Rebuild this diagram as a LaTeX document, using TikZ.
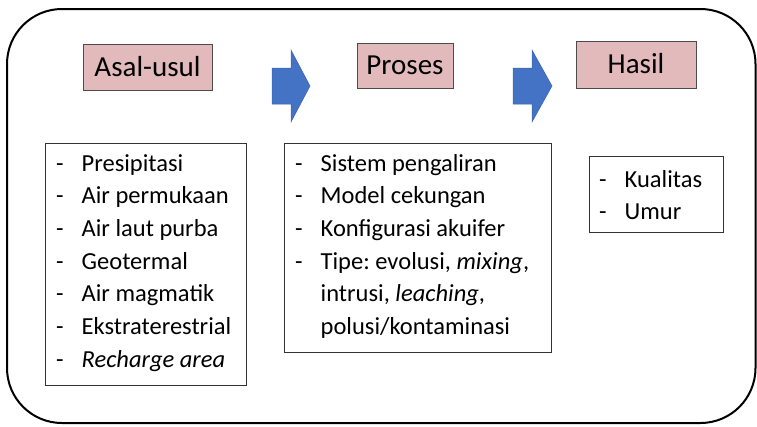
\documentclass[tikz,border=0pt]{standalone}
\usepackage{fontspec}
\setmainfont{Carlito}
\definecolor{pinkbox}{RGB}{226,186,188}
\definecolor{arrowblue}{RGB}{68,114,196}
\definecolor{arrowedge}{RGB}{60,100,175}
\newcommand{\dashitem}[1]{\makebox[25.5pt][l]{-}#1}
\newcommand{\contitem}[1]{\makebox[25.5pt][l]{}#1}
\frenchspacing
\begin{document}
\begin{tikzpicture}[x=1pt,y=-1pt,
  headbox/.style={draw=black!70, fill=pinkbox, line width=0.8pt, inner sep=0pt,
    font=\fontsize{29}{35}\selectfont, text height=18.7pt, text depth=0pt},
  listbox/.style={draw=black!80, line width=0.9pt, inner sep=0pt},
  listtext/.style={inner sep=0pt, anchor=base west, font=\fontsize{24.5}{32.7}\selectfont},
  blockarrow/.style={fill=arrowblue, draw=arrowedge, line width=0.5pt}]
\useasboundingbox (0,0) rectangle (757,426);
% outer frame
\draw[line width=2pt, rounded corners=55pt] (7,9) rectangle (755.5,423);
% headings
\node[headbox, minimum width=129pt, minimum height=46pt] (asal) at (147.5,67) {Asal-usul};
\node[headbox, minimum width=96pt, minimum height=45pt] (proses) at (405,65.5) {Proses};
\node[headbox, minimum width=120pt, minimum height=47pt] (hasil) at (636,64.5) {Hasil};
% block arrows
\draw[blockarrow] (272,68) -- (291,68) -- (291,50) -- (310,86) -- (291,122) -- (291,104) -- (272,104) -- cycle;
\draw[blockarrow] (513,68) -- (532,68) -- (532,50) -- (552,86) -- (532,122) -- (532,104) -- (513,104) -- cycle;
% list boxes
\node[listbox, minimum width=201pt, minimum height=242pt] (b1) at (145.5,264) {};
\node[listbox, minimum width=267pt, minimum height=209pt] (b2) at (417.5,247.5) {};
\node[listbox, minimum width=134pt, minimum height=76pt] (b3) at (656,194) {};
% list texts
\node[listtext] (t1) at (56,171) {\begin{tabular}[t]{@{}l@{}}
\dashitem{Presipitasi}\\
\dashitem{Air permukaan}\\
\dashitem{Air laut purba}\\
\dashitem{Geotermal}\\
\dashitem{Air magmatik}\\
\dashitem{Ekstraterestrial}\\
\dashitem{\itshape Recharge area}
\end{tabular}};
\node[listtext] (t2) at (295,171) {\begin{tabular}[t]{@{}l@{}}
\dashitem{Sistem pengaliran}\\
\dashitem{Model cekungan}\\
\dashitem{Konfigurasi akuifer}\\
\dashitem{Tipe: evolusi, \textit{mixing},}\\
\contitem{intrusi, \textit{leaching},}\\
\contitem{polusi/kontaminasi}
\end{tabular}};
\node[listtext] (t3) at (599,187) {\begin{tabular}[t]{@{}l@{}}
\dashitem{Kualitas}\\
\dashitem{Umur}
\end{tabular}};
\end{tikzpicture}
\end{document}
